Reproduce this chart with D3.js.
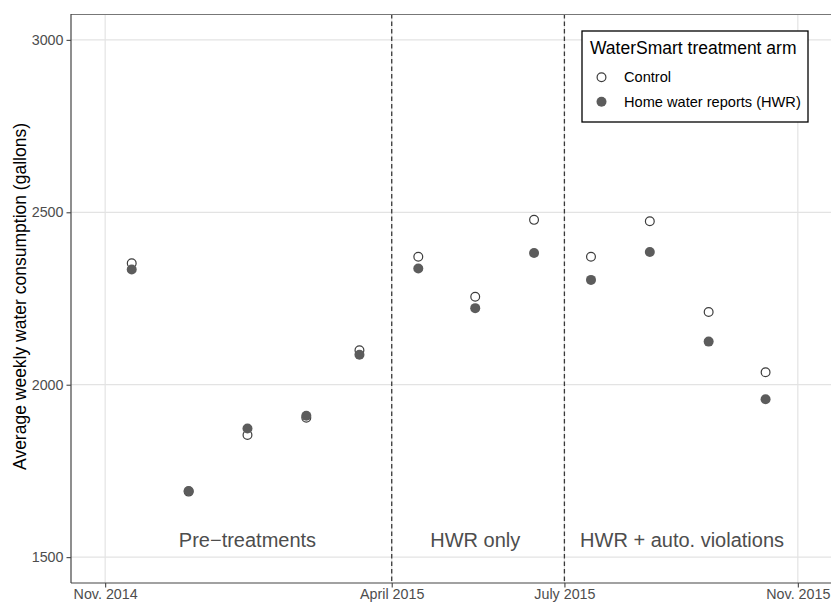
<!DOCTYPE html>
<html>
<head>
<meta charset="utf-8">
<script src="https://cdn.jsdelivr.net/npm/d3@7"></script>
<style>
  body{margin:0;background:#fff;}
  text{font-family:"Liberation Sans",Arial,sans-serif;}
</style>
</head>
<body>
<script>
// data
var months=["2014-11-15","2014-12-15","2015-01-15","2015-02-15","2015-03-15","2015-04-15",
            "2015-05-15","2015-06-15","2015-07-15","2015-08-15","2015-09-15","2015-10-15"]
var control=[2352,1690,1854,1904,2100,2371,2255,2478,2371,2474,2211,2036]
var hwr=[2334,1692,1873,1910,2087,2337,2222,2382,2304,2385,2125,1958]
var yTicks=[1500,2000,2500,3000]
var xTicks=["2014-11-01","2015-04-01","2015-07-01","2015-11-01"]
var xTickLabels=["Nov. 2014","April 2015","July 2015","Nov. 2015"]
var phaseBreaks=["2015-04-01","2015-07-01"]
var phaseLabels=["Pre\u2212treatments","HWR only","HWR + auto. violations"]
var phaseLabelDates=["2015-01-15","2015-05-15","2015-09-01"]
var legendTitle="WaterSmart treatment arm"
var legendLabels=["Control","Home water reports (HWR)"]

var parse=d3.utcParse("%Y-%m-%d")
var screen={width:831,height:603}
var margins={top:14,right:-1,bottom:20,left:71}
var height=screen.height-margins.bottom
var right=screen.width-margins.right

var svg=d3.select("body").append("svg").attr("width",screen.width).attr("height",screen.height)

var xScale=d3.scaleUtc().domain([parse("2014-10-14"),parse("2015-11-19")]).range([margins.left,right])
var yScale=d3.scaleLinear().domain([1425,3075]).range([height,margins.top])

// grid
svg.append("g").selectAll("line").data(yTicks).enter().append("line")
   .attr("x1",margins.left).attr("x2",right)
   .attr("y1",function(d){return yScale(d)}).attr("y2",function(d){return yScale(d)})
   .style("stroke","#e3e3e3").style("stroke-width",1.2)
svg.append("g").selectAll("line").data(xTicks).enter().append("line")
   .attr("x1",function(d){return xScale(parse(d))}).attr("x2",function(d){return xScale(parse(d))})
   .attr("y1",margins.top).attr("y2",height)
   .style("stroke","#e3e3e3").style("stroke-width",1.2)

// dashed phase breaks
svg.append("g").selectAll("line").data(phaseBreaks).enter().append("line")
   .attr("x1",function(d){return xScale(parse(d))}).attr("x2",function(d){return xScale(parse(d))})
   .attr("y1",margins.top).attr("y2",height)
   .style("stroke","#3a3a3a").style("stroke-width",1.3).style("stroke-dasharray","4.5,3")

// phase labels
svg.append("g").selectAll("text").data(phaseLabels).enter().append("text")
   .attr("x",function(d,i){return xScale(parse(phaseLabelDates[i]))})
   .attr("y",yScale(1550)).attr("dy","0.35em")
   .attr("text-anchor","middle").style("font-size","20px").style("fill","#4d4d4d")
   .text(function(d){return d})

// points
svg.append("g").selectAll("circle").data(control).enter().append("circle")
   .attr("cx",function(d,i){return xScale(parse(months[i]))})
   .attr("cy",function(d){return yScale(d)})
   .attr("r",4.4).style("fill","#fff").style("stroke","#3d3d3d").style("stroke-width",1.2)
svg.append("g").selectAll("circle").data(hwr).enter().append("circle")
   .attr("cx",function(d,i){return xScale(parse(months[i]))})
   .attr("cy",function(d){return yScale(d)})
   .attr("r",5).style("fill","#5c5c5c")

// panel border
svg.append("line").attr("x1",margins.left).attr("x2",right).attr("y1",margins.top+0.5).attr("y2",margins.top+0.5)
   .style("stroke","#777").style("stroke-width",1.2)

// axes
var yAxis=d3.axisLeft(yScale).tickValues(yTicks).tickSize(4.5).tickPadding(3).tickFormat(d3.format("d"))
var gy=svg.append("g").attr("transform","translate("+margins.left+",0)").call(yAxis)
var xAxis=d3.axisBottom(xScale).tickValues(xTicks.map(parse)).tickSize(4.5).tickPadding(1)
   .tickFormat(function(d,i){return xTickLabels[i]})
var gx=svg.append("g").attr("transform","translate(0,"+height+")").call(xAxis)
gy.attr("font-size",14.3).attr("font-family","Liberation Sans, Arial, sans-serif")
gx.attr("font-size",14.3).attr("font-family","Liberation Sans, Arial, sans-serif")
gy.select(".domain").attr("d","M0,"+margins.top+"V"+height).style("stroke","#444").style("stroke-width",1.2)
gx.select(".domain").attr("d","M"+margins.left+",0H"+right).style("stroke","#444").style("stroke-width",1.2)
svg.selectAll(".tick line").style("stroke","#444").style("stroke-width",1.1)
svg.selectAll(".tick text").attr("fill","#4d4d4d")

// y title
svg.append("text").attr("transform","translate(26,"+((margins.top+height)/2-2)+") rotate(-90)")
   .attr("text-anchor","middle").style("font-size","17.5px").style("fill","#000")
   .text("Average weekly water consumption (gallons)")

// legend
var legend=svg.append("g")
legend.append("rect").attr("x",582).attr("y",31).attr("width",226).attr("height",91)
   .style("fill","#fff").style("stroke","#000").style("stroke-width",1.3)
legend.append("text").attr("x",590).attr("y",54).style("font-size","17.5px").text(legendTitle)
legend.selectAll("circle").data(legendLabels).enter().append("circle")
   .attr("cx",601.5).attr("cy",function(d,i){return 77.3+i*24.5})
   .attr("r",function(d,i){return i==0?4.4:5})
   .style("fill",function(d,i){return i==0?"#fff":"#5c5c5c"})
   .style("stroke",function(d,i){return i==0?"#3d3d3d":"none"})
   .style("stroke-width",1.2)
legend.selectAll("text.lab").data(legendLabels).enter().append("text").attr("class","lab")
   .attr("x",624).attr("y",function(d,i){return 82.3+i*24.3})
   .style("font-size","14.6px").text(function(d){return d})
</script>
</body>
</html>
